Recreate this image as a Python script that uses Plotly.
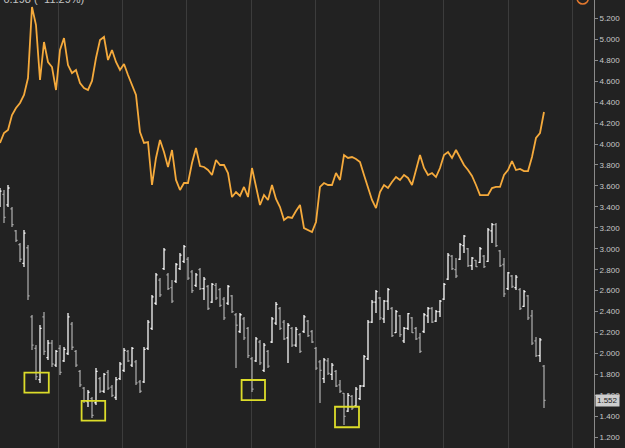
import plotly.graph_objects as go

# ---- data ----
days = list(range(137))

orange = [4.010, 4.105, 4.134, 4.277, 4.344, 4.392, 4.468, 4.630, 5.308, 5.136,
          4.611, 4.974, 4.783, 4.735, 4.516, 4.898, 5.012, 4.754, 4.678, 4.707,
          4.583, 4.535, 4.516, 4.602, 4.821, 4.993, 5.022, 4.802, 4.898, 4.783,
          4.707, 4.764, 4.659, 4.564, 4.468, 4.115, 4.010, 4.019, 3.609, 3.867,
          4.038, 3.924, 3.781, 3.943, 3.657, 3.561, 3.628, 3.628, 3.819, 3.962,
          3.790, 3.781, 3.752, 3.704, 3.847, 3.800, 3.800, 3.723, 3.494, 3.542,
          3.504, 3.590, 3.494, 3.771, 3.609, 3.418, 3.513, 3.466, 3.609, 3.475,
          3.399, 3.275, 3.303, 3.294, 3.361, 3.418, 3.198, 3.179, 3.160, 3.256,
          3.590, 3.628, 3.609, 3.609, 3.723, 3.657, 3.895, 3.867, 3.876, 3.857,
          3.828, 3.704, 3.590, 3.466, 3.389, 3.542, 3.609, 3.580, 3.637, 3.685,
          3.657, 3.704, 3.676, 3.609, 3.752, 3.895, 3.771, 3.704, 3.723, 3.685,
          3.771, 3.895, 3.924, 3.867, 3.943, 3.876, 3.800, 3.752, 3.695, 3.609,
          3.513, 3.513, 3.513, 3.580, 3.590, 3.590, 3.704, 3.752, 3.838, 3.752,
          3.762, 3.742, 3.742, 3.876, 4.058, 4.105, 4.306]

bar_high = [3.580, 3.561, 3.609, 3.399, 3.179, 3.055, 3.179, 3.036, 2.368, 2.081,
            2.272, 2.396, 2.129, 2.129, 2.034, 2.081, 2.062, 2.387, 2.301, 2.034,
            1.843, 1.680, 1.652, 1.585, 1.862, 1.776, 1.814, 1.843, 1.699, 1.776,
            1.919, 2.053, 2.034, 2.062, 1.938, 1.747, 2.062, 2.320, 2.559, 2.769,
            2.721, 3.007, 2.769, 2.702, 2.864, 2.960, 3.036, 2.921, 2.797, 2.769,
            2.816, 2.730, 2.654, 2.673, 2.673, 2.625, 2.540, 2.654, 2.559, 2.387,
            2.387, 2.349, 2.253, 1.967, 2.158, 2.129, 2.100, 2.034, 2.349, 2.492,
            2.444, 2.320, 2.291, 2.253, 2.253, 2.196, 2.368, 2.320, 2.224, 2.062,
            1.938, 1.957, 1.957, 1.909, 1.843, 1.747, 1.623, 1.623, 1.604, 1.680,
            1.699, 1.986, 2.320, 2.511, 2.606, 2.540, 2.511, 2.625, 2.444, 2.415,
            2.368, 2.253, 2.387, 2.349, 2.253, 2.196, 2.387, 2.444, 2.444, 2.415,
            2.511, 2.673, 2.960, 2.941, 2.912, 3.055, 3.131, 3.007, 2.921, 2.893,
            3.017, 2.941, 3.198, 3.246, 3.246, 2.988, 2.912, 2.778, 2.750, 2.750,
            2.625, 2.606, 2.559, 2.415, 2.158, 2.148, 1.890]

bar_low = [3.399, 3.246, 3.399, 3.208, 3.065, 2.874, 2.826, 2.511, 2.034, 1.747,
           1.719, 1.986, 1.938, 1.871, 1.871, 1.795, 1.919, 1.986, 2.034, 1.871,
           1.680, 1.528, 1.489, 1.384, 1.508, 1.623, 1.623, 1.652, 1.585, 1.556,
           1.747, 1.824, 1.919, 1.871, 1.699, 1.623, 1.719, 2.034, 2.224, 2.463,
           2.540, 2.797, 2.606, 2.482, 2.673, 2.797, 2.864, 2.702, 2.578, 2.635,
           2.606, 2.511, 2.415, 2.482, 2.511, 2.444, 2.320, 2.463, 2.387, 1.862,
           2.196, 2.129, 1.957, 1.633, 1.919, 1.890, 1.824, 1.862, 2.100, 2.272,
           2.224, 2.129, 1.909, 2.062, 2.062, 2.005, 2.196, 2.158, 2.100, 1.843,
           1.528, 1.719, 1.795, 1.747, 1.680, 1.623, 1.318, 1.442, 1.461, 1.489,
           1.556, 1.680, 1.938, 2.291, 2.387, 2.320, 2.291, 2.415, 2.158, 2.196,
           2.158, 2.100, 2.224, 2.196, 2.129, 2.005, 2.196, 2.291, 2.291, 2.301,
           2.349, 2.511, 2.702, 2.797, 2.721, 2.893, 2.960, 2.826, 2.797, 2.826,
           2.864, 2.816, 2.874, 3.055, 3.017, 2.826, 2.540, 2.606, 2.625, 2.606,
           2.415, 2.444, 2.320, 2.081, 1.967, 1.919, 1.480]

bar_open = [3.45, 3.52, 3.42, 3.38, 3.17, 3.04, 2.86, 3.01, 2.35, 2.05,
            1.75, 2.35, 1.96, 2.10, 1.89, 2.05, 1.93, 2.00, 2.28, 2.02,
            1.83, 1.67, 1.54, 1.57, 1.53, 1.76, 1.64, 1.82, 1.68, 1.58,
            1.76, 1.84, 2.02, 1.89, 1.92, 1.73, 1.73, 2.05, 2.24, 2.48,
            2.70, 2.81, 2.75, 2.63, 2.69, 2.81, 2.88, 2.90, 2.78, 2.65,
            2.80, 2.62, 2.64, 2.49, 2.65, 2.61, 2.52, 2.48, 2.55, 2.37,
            2.21, 2.33, 2.24, 1.95, 1.93, 2.11, 1.84, 2.02, 2.11, 2.29,
            2.43, 2.30, 2.15, 2.24, 2.08, 2.18, 2.21, 2.31, 2.21, 2.05,
            1.92, 1.76, 1.93, 1.80, 1.83, 1.70, 1.62, 1.45, 1.59, 1.50,
            1.57, 1.69, 1.95, 2.30, 2.49, 2.53, 2.33, 2.50, 2.43, 2.20,
            2.36, 2.12, 2.24, 2.34, 2.24, 2.15, 2.21, 2.36, 2.43, 2.31,
            2.40, 2.52, 2.71, 2.93, 2.80, 2.90, 3.03, 3.00, 2.84, 2.89,
            2.87, 2.93, 2.88, 3.17, 3.23, 2.98, 2.85, 2.62, 2.74, 2.63,
            2.61, 2.45, 2.55, 2.36, 2.12, 1.98, 1.88]

bar_close = [3.55, 3.30, 3.58, 3.23, 3.08, 2.90, 3.15, 2.55, 2.08, 1.78,
             2.24, 2.02, 2.10, 1.90, 2.02, 1.82, 2.04, 2.35, 2.06, 1.89,
             1.70, 1.55, 1.63, 1.41, 1.83, 1.64, 1.80, 1.67, 1.60, 1.75,
             1.90, 2.03, 1.93, 2.05, 1.72, 1.64, 2.04, 2.30, 2.54, 2.75,
             2.56, 2.99, 2.62, 2.50, 2.85, 2.94, 3.02, 2.72, 2.60, 2.75,
             2.62, 2.71, 2.43, 2.66, 2.53, 2.46, 2.34, 2.64, 2.40, 2.27,
             2.37, 2.15, 1.98, 1.66, 2.14, 1.91, 2.08, 1.88, 2.33, 2.47,
             2.24, 2.14, 2.27, 2.08, 2.23, 2.02, 2.35, 2.17, 2.11, 1.86,
             1.84, 1.94, 1.81, 1.89, 1.69, 1.64, 1.40, 1.60, 1.48, 1.66,
             1.69, 1.97, 2.30, 2.49, 2.59, 2.34, 2.50, 2.61, 2.17, 2.40,
             2.18, 2.24, 2.38, 2.20, 2.14, 2.02, 2.37, 2.43, 2.30, 2.40,
             2.50, 2.66, 2.94, 2.81, 2.74, 3.04, 3.12, 2.84, 2.91, 2.83,
             3.00, 2.83, 3.18, 3.23, 3.03, 2.84, 2.57, 2.77, 2.64, 2.73,
             2.43, 2.59, 2.34, 2.10, 1.98, 2.13, 1.552]

last_price = 1.552
header_text = "\u22120.198 (\u221211.29%)"

# vertical separators (period boundaries), in day units
period_lines = [14.5, 30.58, 46.68, 62.75, 78.75, 94.88, 110.95, 127.0, 143.1]

# highlighted lows: (day0, day1, price_low, price_high)
highlight_boxes = [(6.1, 12.2, 1.626, 1.817),
                   (20.4, 26.3, 1.359, 1.547),
                   (60.4, 66.25, 1.556, 1.747),
                   (83.75, 89.75, 1.296, 1.492)]

BG = "#222222"
fig = go.Figure()

fig.add_trace(go.Ohlc(
    x=days, open=bar_open, high=bar_high, low=bar_low, close=bar_close,
    increasing=dict(line=dict(color="#f6f6f6", width=1.3)),
    decreasing=dict(line=dict(color="#a6a6a6", width=1.3)),
    tickwidth=0.4, showlegend=False, hoverinfo="skip"))

fig.add_trace(go.Scatter(
    x=days, y=orange, mode="lines",
    line=dict(color="#f5aa3c", width=1.8),
    showlegend=False, hoverinfo="skip"))

for (x0, x1, y0, y1) in highlight_boxes:
    fig.add_shape(type="rect", xref="x", yref="y", x0=x0, x1=x1, y0=y0, y1=y1,
                  line=dict(color="#dcdc2a", width=1.8), fillcolor="rgba(0,0,0,0)")

# orange alert icon at top right (partially cut)
fig.add_shape(type="circle", xref="paper", yref="paper",
              x0=0.9715, x1=0.9905, y0=0.991, y1=1.0165,
              line=dict(color="#e2782e", width=1.5))

fig.add_annotation(xref="paper", yref="paper", x=0, y=1, xanchor="left",
                   yanchor="middle", xshift=-5, yshift=1, showarrow=False,
                   text=header_text, font=dict(color="#c4c4c4", size=11,
                                               family="Liberation Sans"))

fig.add_annotation(xref="paper", yref="y", x=1, y=last_price, xanchor="left",
                   yanchor="middle", xshift=1, showarrow=False,
                   text=f"{last_price:.3f}", bgcolor="#cdcdcd",
                   borderpad=1,
                   font=dict(color="#1a1a1a", size=8, family="Liberation Sans"))

fig.update_layout(
    width=625, height=448,
    margin=dict(l=0, r=31, t=0, b=0),
    paper_bgcolor=BG, plot_bgcolor=BG,
    xaxis=dict(range=[0, 148.5], tickmode="array", tickvals=period_lines,
               showticklabels=False, ticks="", showgrid=True,
               gridcolor="#3c3c3c", gridwidth=1, zeroline=False,
               showline=False, rangeslider=dict(visible=False), fixedrange=True),
    yaxis=dict(range=[1.098, 5.375], side="right", tickmode="linear",
               tick0=1.2, dtick=0.2, tickformat=".3f", showgrid=False,
               zeroline=False, showline=True, linecolor="#8a8a8a", linewidth=1,
               ticks="outside", ticklen=3, tickcolor="#8a8a8a",
               tickfont=dict(color="#c8c8c8", size=8, family="Liberation Sans"),
               fixedrange=True),
)

fig.write_html("out.html")
